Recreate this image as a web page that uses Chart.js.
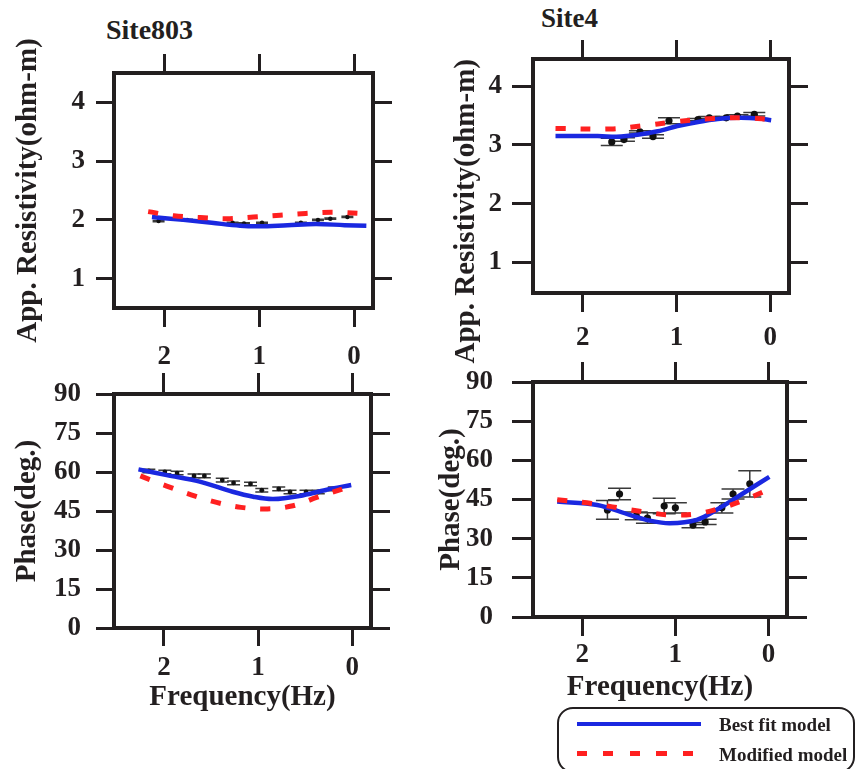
<!DOCTYPE html>
<html>
<head>
<meta charset="utf-8">
<script src="https://cdn.jsdelivr.net/npm/chart.js@4.4.1/dist/chart.umd.min.js"></script>
<style>
  body { margin: 0; background: #fff; width: 858px; height: 769px; position: relative; overflow: hidden;
         font-family: "Liberation Serif", "Times New Roman", serif; color: #231f20; }
  canvas { position: absolute; left: 0; top: 0; }
  .site { position: absolute; font-weight: bold; line-height: 1; white-space: nowrap; }
  #key { position: absolute; left: 557px; top: 707px; width: 298px; height: 66px;
         border: 2px solid #231f20; border-radius: 16px; box-sizing: border-box; }
  #key .sw { position: absolute; left: 18px; }
  #key .txt { position: absolute; left: 160px; font-size: 19px; font-weight: bold; line-height: 1; white-space: nowrap; }
</style>
</head>
<body>
<div class="site" style="left:106px; top:16px; font-size:28px;">Site803</div>
<div class="site" style="left:541px; top:5px; font-size:27px;">Site4</div>

<canvas id="rho803" width="858" height="769"></canvas>
<canvas id="phase803" width="858" height="769"></canvas>
<canvas id="rho4" width="858" height="769"></canvas>
<canvas id="phase4" width="858" height="769"></canvas>

<div id="key">
  <div class="sw" style="top:13px; width:124px; height:4px; background:#1a28e0;"></div>
  <div class="txt" style="top:6px;">Best fit model</div>
  <div class="sw" style="top:42px; width:118px; height:5px;
       background:repeating-linear-gradient(90deg,#ff2020 0 10px,transparent 10px 26.5px);"></div>
  <div class="txt" style="top:36px;">Modified model</div>
</div>

<script>
// axis ticks
const freqTicks = [2, 1, 0];
const rhoTicks = [1, 2, 3, 4];
const phaseTicks = [0, 15, 30, 45, 60, 75, 90];

// Site803 - apparent resistivity
const s803RhoObsF = [2.06, 1.76, 1.28, 1.16, 0.97, 0.56, 0.38, 0.25, 0.07];
const s803RhoObs = [1.98, 2.0, 1.95, 1.94, 1.95, 1.95, 2.0, 2.02, 2.05];
const s803RhoErr = [0.01, 0.01, 0.01, 0.01, 0.01, 0.01, 0.01, 0.01, 0.01];
const s803RhoBestF = [2.13, 1.8, 1.5, 1.2, 1.0, 0.7, 0.4, 0.1, -0.13];
const s803RhoBest = [2.05, 2.0, 1.95, 1.9, 1.89, 1.91, 1.93, 1.91, 1.9];
const s803RhoModF = [2.17, 1.9, 1.62, 1.34, 1.06, 0.78, 0.51, 0.24, -0.07];
const s803RhoMod = [2.14, 2.07, 2.04, 2.02, 2.05, 2.08, 2.11, 2.13, 2.11];

// Site803 - phase
const s803PhObsF = [2.16, 1.99, 1.86, 1.68, 1.57, 1.38, 1.26, 1.08, 0.96, 0.78, 0.66, 0.49, 0.36, 0.19];
const s803PhObs = [60.4, 60, 59.6, 58.5, 58.5, 56.9, 55.8, 55.4, 53, 53.5, 52.3, 52.3, 52.3, 53.5];
const s803PhErr = [0.7, 0.7, 0.7, 0.7, 0.7, 0.7, 0.7, 0.7, 0.7, 0.7, 0.7, 0.7, 0.7, 0.7];
const s803PhBestF = [2.27, 1.97, 1.62, 1.27, 1.05, 0.84, 0.56, 0.28, 0.01];
const s803PhBest = [61.0, 58.8, 56.3, 52.4, 50.5, 49.6, 50.8, 53.1, 55.0];
const s803PhModF = [2.25, 1.97, 1.71, 1.44, 1.18, 0.9, 0.63, 0.37, 0.085, 0.01];
const s803PhMod = [58.5, 54.6, 51.2, 48.3, 46.4, 45.8, 47.0, 50.3, 53.7, 54.5];

// Site4 - apparent resistivity
const s4RhoObsF = [1.69, 1.56, 1.39, 1.25, 1.08, 0.77, 0.65, 0.47, 0.35, 0.17];
const s4RhoObs = [3.05, 3.09, 3.22, 3.14, 3.41, 3.43, 3.46, 3.46, 3.49, 3.52];
const s4RhoErr = [0.06, 0.03, 0.02, 0.03, 0.05, 0.02, 0.02, 0.02, 0.02, 0.03];
const s4RhoBestF = [2.29, 1.84, 1.59, 1.2, 0.99, 0.77, 0.56, 0.35, 0.13, -0.01];
const s4RhoBest = [3.15, 3.15, 3.14, 3.23, 3.32, 3.39, 3.44, 3.46, 3.45, 3.42];
const s4RhoModF = [2.29, 1.7, 1.38, 1.02, 0.6, 0.24, 0.01];
const s4RhoMod = [3.28, 3.27, 3.32, 3.39, 3.45, 3.46, 3.43];

// Site4 - phase
const s4PhObsF = [1.73, 1.6, 1.42, 1.3, 1.12, 1.0, 0.81, 0.68, 0.5, 0.38, 0.2];
const s4PhObs = [41, 47.1, 38.7, 37.9, 42.5, 41.8, 35.2, 36.4, 41.8, 47.1, 51];
const s4PhErr = [3.6, 2.2, 1.5, 2.0, 3.0, 2.0, 1.0, 1.0, 2.0, 1.9, 5.0];
const s4PhBestF = [2.27, 1.84, 1.49, 1.27, 1.06, 0.77, 0.56, 0.27, -0.01];
const s4PhBest = [44.2, 42.9, 39.1, 36.9, 35.9, 37.2, 41.0, 47.4, 53.7];
const s4PhModF = [2.27, 1.9, 1.63, 1.34, 1.07, 0.79, 0.52, 0.26, -0.05];
const s4PhMod = [44.9, 43.5, 41.9, 40.3, 39.1, 39.4, 41.6, 44.8, 49.6];

const ink = '#231f20';
const serif = '"Liberation Serif", "Times New Roman", serif';
const tickFont = { family: serif, size: 27, weight: 'bold' };
const titleFont = { family: serif, size: 29, weight: 'bold' };

function pts(xs, ys) {
  return xs.map((x, i) => ({ x: x, y: ys[i] }));
}

// vertical error bars with caps, drawn under the curves
const errorBars = {
  id: 'errorBars',
  beforeDatasetsDraw(chart) {
    const { ctx, scales } = chart;
    chart.data.datasets.forEach(ds => {
      if (!ds.errors) return;
      const half = ds.capWidth / 2;
      ctx.save();
      ctx.strokeStyle = '#3a3a3a';
      ctx.lineWidth = 1.5;
      ds.data.forEach((p, i) => {
        const px = scales.x.getPixelForValue(p.x);
        const top = scales.y.getPixelForValue(p.y + ds.errors[i]);
        const bot = scales.y.getPixelForValue(p.y - ds.errors[i]);
        ctx.beginPath();
        ctx.moveTo(px, top); ctx.lineTo(px, bot);
        ctx.moveTo(px - half, top); ctx.lineTo(px + half, top);
        ctx.moveTo(px - half, bot); ctx.lineTo(px + half, bot);
        ctx.stroke();
      });
      ctx.restore();
    });
  }
};

function tickGrid(len) {
  return { display: true, drawOnChartArea: false, drawTicks: true, tickLength: len, lineWidth: 3, color: ink };
}

function panel(id, o) {
  const setTicks = list => s => { s.ticks = list.map(v => ({ value: v })); };
  const edge = 22;
  const frame = { width: 4, color: ink };
  new Chart(document.getElementById(id), {
    type: 'line',
    data: {
      datasets: [
        { label: 'Modified model', data: pts(o.modF, o.mod), borderColor: '#ff2020', borderWidth: 5,
          borderDash: [10, 15], pointRadius: 0, tension: 0.35, order: 0 },
        { label: 'Best fit model', data: pts(o.bestF, o.best), borderColor: '#1a28e0', borderWidth: 4.5,
          pointRadius: 0, tension: 0.35, order: 1 },
        { label: 'Observed', data: pts(o.obsF, o.obs), errors: o.err, capWidth: o.cap, showLine: false,
          pointRadius: o.dot, pointBackgroundColor: '#111', pointBorderWidth: 0, order: 2 }
      ]
    },
    options: {
      responsive: false,
      animation: false,
      events: [],
      layout: { padding: { left: o.l - o.yw, right: 858 - o.r - edge, top: o.t - edge, bottom: 769 - o.b - o.xh } },
      plugins: { legend: { display: false }, tooltip: { enabled: false } },
      scales: {
        x: {
          type: 'linear', position: 'bottom', reverse: true, min: -0.2, max: 2.53,
          afterBuildTicks: setTicks(freqTicks), afterFit: s => { s.height = o.xh; },
          grid: tickGrid(o.xTick), border: frame,
          ticks: { padding: o.xPad, font: tickFont, color: ink, maxRotation: 0 },
          title: { display: !!o.xTitle, text: o.xTitle || '', font: titleFont, color: ink,
                   padding: { top: 0, bottom: o.xTitlePad || 0 } }
        },
        x2: {
          type: 'linear', axis: 'x', position: 'top', reverse: true, min: -0.2, max: 2.53,
          afterBuildTicks: setTicks(freqTicks), afterFit: s => { s.height = edge; },
          grid: tickGrid(o.topTick), border: frame, ticks: { display: false }
        },
        y: {
          type: 'linear', position: 'left', min: o.ymin, max: o.ymax,
          afterBuildTicks: setTicks(o.yTicks), afterFit: s => { s.width = o.yw; },
          grid: tickGrid(o.yTick), border: frame,
          ticks: { padding: o.yPad, font: tickFont, color: ink },
          title: { display: true, text: o.yTitle, font: titleFont, color: ink, align: o.yAlign || 'center',
                   padding: { top: o.yTitlePad, bottom: 0 } }
        },
        y2: {
          type: 'linear', axis: 'y', position: 'right', min: o.ymin, max: o.ymax,
          afterBuildTicks: setTicks(o.yTicks), afterFit: s => { s.width = edge; },
          grid: tickGrid(o.rTick), border: frame, ticks: { display: false }
        }
      }
    },
    plugins: [errorBars]
  });
}

panel('rho803', {
  l: 114, r: 373, t: 73, b: 308, yw: 114, xh: 80,
  ymin: 0.5, ymax: 4.5, yTicks: rhoTicks, yTitle: 'App. Resistivity(ohm-m)', yTitlePad: 11.6,
  yTick: 18, yPad: 11, xTick: 19, xPad: 14, topTick: 19, rTick: 19,
  obsF: s803RhoObsF, obs: s803RhoObs, err: s803RhoErr, cap: 12, dot: 2.2,
  bestF: s803RhoBestF, best: s803RhoBest, modF: s803RhoModF, mod: s803RhoMod
});

panel('phase803', {
  l: 114, r: 371, t: 394, b: 628, yw: 114, xh: 100,
  ymin: 0, ymax: 90, yTicks: phaseTicks, yTitle: 'Phase(deg.)', yTitlePad: 10.6,
  yTick: 18, yPad: 15, xTick: 18, xPad: 6, topTick: 21, rTick: 19,
  xTitle: 'Frequency(Hz)', xTitlePad: 12.6,
  obsF: s803PhObsF, obs: s803PhObs, err: s803PhErr, cap: 13, dot: 2.4,
  bestF: s803PhBestF, best: s803PhBest, modF: s803PhModF, mod: s803PhMod
});

panel('rho4', {
  l: 533, r: 789, t: 59, b: 293, yw: 100, xh: 80,
  ymin: 0.48, ymax: 4.46, yTicks: rhoTicks, yTitle: 'App. Resistivity(ohm-m)', yTitlePad: 16.6, yAlign: 'end',
  yTick: 21, yPad: 10, xTick: 19, xPad: 10, topTick: 19, rTick: 19,
  obsF: s4RhoObsF, obs: s4RhoObs, err: s4RhoErr, cap: 22, dot: 3.6,
  bestF: s4RhoBestF, best: s4RhoBest, modF: s4RhoModF, mod: s4RhoMod
});

panel('phase4', {
  l: 533, r: 787, t: 382, b: 617, yw: 100, xh: 100,
  ymin: 0, ymax: 90, yTicks: phaseTicks, yTitle: 'Phase(deg.)', yTitlePad: 1.6,
  yTick: 21, yPad: 19, xTick: 19, xPad: 3, topTick: 20, rTick: 20,
  xTitle: 'Frequency(Hz)', xTitlePad: 11.6,
  obsF: s4PhObsF, obs: s4PhObs, err: s4PhErr, cap: 23, dot: 3.6,
  bestF: s4PhBestF, best: s4PhBest, modF: s4PhModF, mod: s4PhMod
});
</script>
</body>
</html>
